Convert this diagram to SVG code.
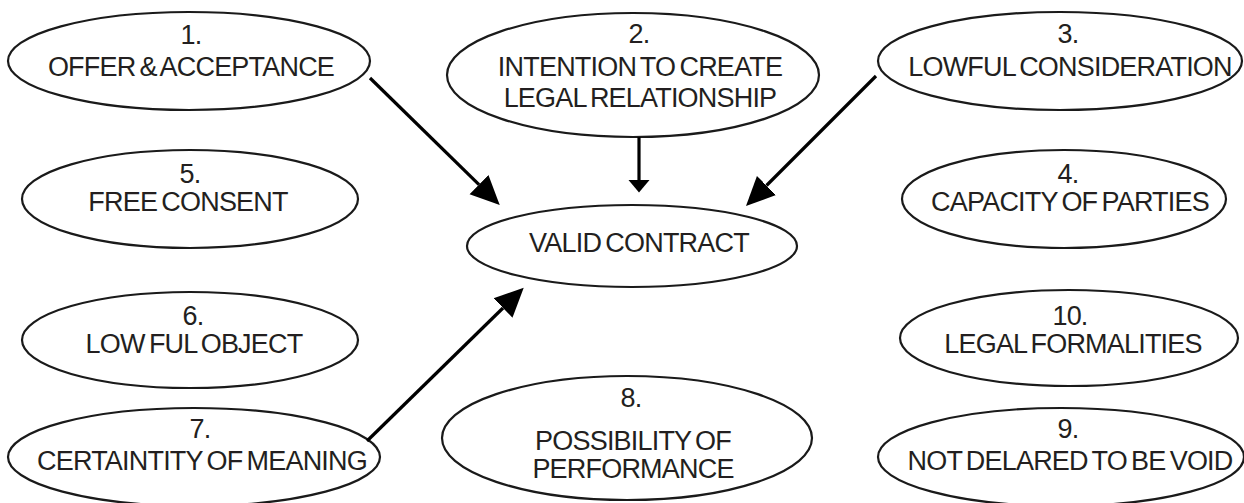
<svg xmlns="http://www.w3.org/2000/svg" width="1244" height="503" viewBox="0 0 1244 503">
<defs>
<style>
.node ellipse{fill:#fff;stroke:#1a1a1a;stroke-width:2.2}
.node text{font-family:"Liberation Sans",Arial,sans-serif;font-size:27px;fill:#231f20;text-anchor:middle;letter-spacing:-0.8px;word-spacing:-2.5px}
.edge{stroke:#000;stroke-width:3.2;fill:none}
</style>
<marker id="big" markerUnits="userSpaceOnUse" markerWidth="30" markerHeight="30" viewBox="0 -14 30 28" refX="0" refY="0" orient="auto">
<path d="M0,-13.5 L29,0 L0,13.5 Z" fill="#000"/>
</marker>
<marker id="small" markerUnits="userSpaceOnUse" markerWidth="14" markerHeight="24" viewBox="0 -11 14 22" refX="0" refY="0" orient="auto">
<path d="M0,-10.5 L12.5,0 L0,10.5 Z" fill="#000"/>
</marker>
</defs>
<rect width="1244" height="503" fill="#fff"/>
<g id="n1" class="node"><ellipse cx="189" cy="61" rx="181" ry="49"/><text x="191" y="44">1.</text><text x="191" y="76">OFFER &amp; ACCEPTANCE</text></g>
<g id="n2" class="node"><ellipse cx="633" cy="75" rx="186" ry="62"/><text x="639" y="43">2.</text><text x="640" y="76">INTENTION TO CREATE</text><text x="640" y="107">LEGAL RELATIONSHIP</text></g>
<g id="n3" class="node"><ellipse cx="1060" cy="61" rx="182" ry="49"/><text x="1068" y="43">3.</text><text x="1070" y="76">LOWFUL CONSIDERATION</text></g>
<g id="n5" class="node"><ellipse cx="190" cy="199" rx="168" ry="49"/><text x="190" y="183">5.</text><text x="188" y="211">FREE CONSENT</text></g>
<g id="n4" class="node"><ellipse cx="1064" cy="199" rx="162" ry="49"/><text x="1068" y="183">4.</text><text x="1070" y="211">CAPACITY OF PARTIES</text></g>
<g id="nv" class="node"><ellipse cx="632" cy="246" rx="165" ry="41"/><text x="639" y="252">VALID CONTRACT</text></g>
<g id="n6" class="node"><ellipse cx="190" cy="340" rx="168" ry="48"/><text x="193" y="325">6.</text><text x="194" y="353">LOW FUL OBJECT</text></g>
<g id="n10" class="node"><ellipse cx="1069" cy="338" rx="169" ry="48"/><text x="1070" y="325">10.</text><text x="1073" y="353">LEGAL FORMALITIES</text></g>
<g id="n7" class="node"><ellipse cx="194" cy="457" rx="186" ry="49"/><text x="200" y="438">7.</text><text x="202" y="470">CERTAINTITY OF MEANING</text></g>
<g id="n8" class="node"><ellipse cx="627" cy="438" rx="185" ry="62"/><text x="631" y="407">8.</text><text x="633" y="450">POSSIBILITY OF</text><text x="633" y="478">PERFORMANCE</text></g>
<g id="n9" class="node"><ellipse cx="1061" cy="457" rx="183" ry="49"/><text x="1068" y="438">9.</text><text x="1070" y="470">NOT DELARED TO BE VOID</text></g>
<g id="edges">
<path class="edge" d="M370,78 L479,184.7" marker-end="url(#big)"/>
<path class="edge" d="M639,137 L639,180" marker-end="url(#small)"/>
<path class="edge" d="M876,76 L766.5,185.5" marker-end="url(#big)"/>
<path class="edge" d="M367,441 L503,308" marker-end="url(#big)"/>
</g>
</svg>
